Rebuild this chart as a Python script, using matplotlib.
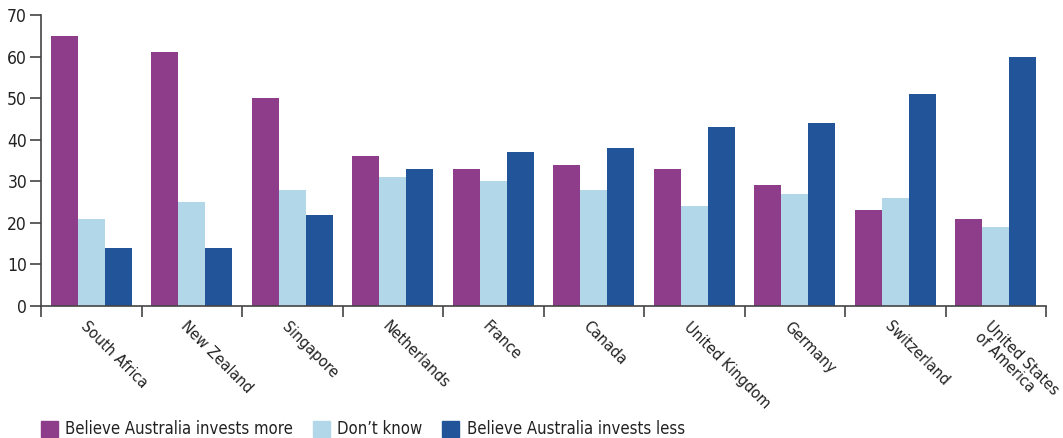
import numpy as np
import matplotlib
matplotlib.use("Agg")
import matplotlib.pyplot as plt
import matplotlib.transforms as mtransforms
from matplotlib.patches import Patch

# ---- data ----
countries = ["South Africa", "New Zealand", "Singapore", "Netherlands", "France",
             "Canada", "United Kingdom", "Germany", "Switzerland",
             "United States\nof America"]
invests_more = [65, 61, 50, 36, 33, 34, 33, 29, 23, 21]
dont_know = [21, 25, 28, 31, 30, 28, 24, 27, 26, 19]
invests_less = [14, 14, 22, 33, 37, 38, 43, 44, 51, 60]

series_names = ["Believe Australia invests more", "Don\u2019t know",
                "Believe Australia invests less"]
colors = ["#8E3D8A", "#B1D7E8", "#215498"]

plt.rcParams["font.family"] = ["DejaVu Sans"]
plt.rcParams["font.stretch"] = "condensed"

fig = plt.figure(figsize=(10.63, 4.38), dpi=100)
ax = fig.add_axes([41 / 1063, 132 / 438, 1005 / 1063, 291 / 438])

x = np.arange(len(countries)) + 0.5
w = 0.27
for i, vals in enumerate([invests_more, dont_know, invests_less]):
    ax.bar(x + (i - 1) * w, vals, width=w, color=colors[i], label=series_names[i])

ax.set_xlim(0, len(countries))
ax.set_ylim(0, 70)
ax.set_yticks(range(0, 71, 10))
ax.set_xticks(np.arange(len(countries) + 1))
ax.set_xticklabels([])

for s in ["top", "right"]:
    ax.spines[s].set_visible(False)
for s in ["left", "bottom"]:
    ax.spines[s].set_color("#444444")
    ax.spines[s].set_linewidth(1.2)
ax.tick_params(axis="y", length=8, width=1.2, color="#444444", labelsize=12.5,
               labelcolor="#222222", pad=2)
ax.tick_params(axis="x", length=8, width=1.2, color="#444444")

# rotated country names hanging under each group
offset = mtransforms.ScaledTranslation(-3 / 100, -13 / 100, fig.dpi_scale_trans)
for xi, name in zip(x, countries):
    ax.text(xi, 0, name, transform=ax.get_xaxis_transform() + offset,
            rotation=-45, rotation_mode="anchor", ha="left", va="top",
            fontsize=11.5, color="#222222", linespacing=1.0)

handles = [Patch(color=c) for c in colors]
fig.legend(handles, series_names, loc="lower left", bbox_to_anchor=(26 / 1063, -0.035),
           ncol=3, frameon=False, fontsize=12, handlelength=1.0, handleheight=1.1,
           handletextpad=0.45, columnspacing=1.2, labelcolor="#222222")

fig.savefig("out.png", dpi=100)
